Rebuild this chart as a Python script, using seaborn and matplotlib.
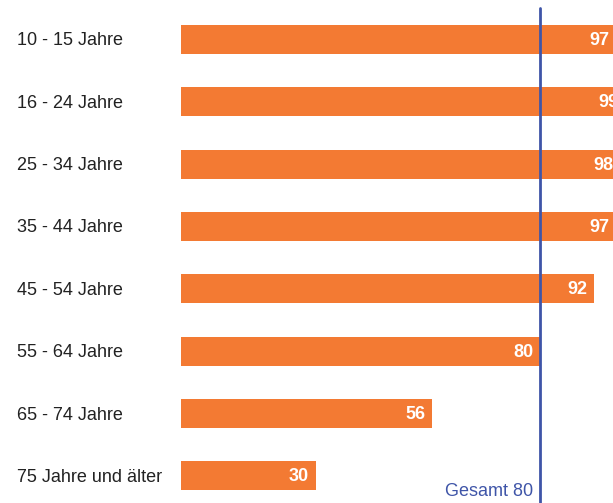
import matplotlib
matplotlib.use("Agg")
import matplotlib.pyplot as plt
import matplotlib.transforms as mtransforms
import seaborn as sns
import pandas as pd

# data
groups = ["10 - 15 Jahre", "16 - 24 Jahre", "25 - 34 Jahre", "35 - 44 Jahre",
          "45 - 54 Jahre", "55 - 64 Jahre", "65 - 74 Jahre", "75 Jahre und älter"]
values = [97, 99, 98, 97, 92, 80, 56, 30]
total = 80

orange = "#F37A33"
blue = "#3F55A8"

sns.set_style("white")
plt.rcParams["font.family"] = ["Liberation Sans", "DejaVu Sans"]

df = pd.DataFrame({"group": groups, "value": values})

fig = plt.figure(figsize=(6.13, 5.03), dpi=100)
ax = fig.add_axes([181 / 613, 0, 1 - 181 / 613, 1])

sns.barplot(data=df, x="value", y="group", color=orange, width=0.465,
            saturation=1, linewidth=0, ax=ax)

ax.set_xlim(0, 96.27)
ax.set_ylim(7.433, -0.633)
ax.set_xticks([])
ax.set_yticks([])
ax.set_xlabel("")
ax.set_ylabel("")
sns.despine(ax=ax, left=True, bottom=True)

# group labels on the left
label_tr = mtransforms.blended_transform_factory(fig.transFigure, ax.transData)
for i, g in enumerate(groups):
    ax.annotate(g, xy=(17 / 613, i), xycoords=label_tr, xytext=(0, -1),
                textcoords="offset points", ha="left", va="center",
                fontsize=13, color="#222222", annotation_clip=False)

# value labels inside the bar ends
for i, v in enumerate(values):
    ax.annotate(str(v), xy=(v, i), xytext=(-5, -0.7), textcoords="offset points",
                ha="right", va="center", fontsize=13, fontweight="bold",
                color="white", annotation_clip=False)

# total line
ax.axvline(total, ymin=0, ymax=1 - 8 / 503, color=blue, linewidth=2)
line_tr = mtransforms.blended_transform_factory(ax.transData, ax.transAxes)
ax.annotate(f"Gesamt {total}", xy=(total, 1 - 491 / 503), xycoords=line_tr,
            xytext=(-5, 0), textcoords="offset points", ha="right",
            va="center", fontsize=13, color=blue)

fig.savefig("out.png", dpi=100)
